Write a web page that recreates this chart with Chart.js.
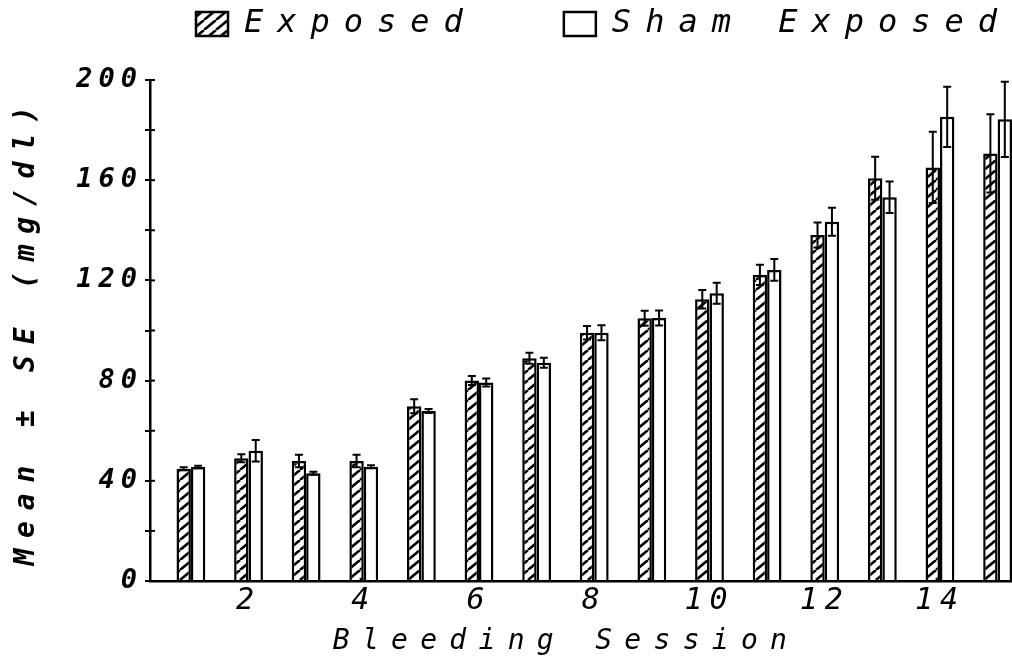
<!DOCTYPE html>
<html>
<head>
<meta charset="utf-8">
<script src="https://cdn.jsdelivr.net/npm/chart.js@4.4.1/dist/chart.umd.min.js"></script>
<style>
  html, body { margin: 0; padding: 0; background: #fff; }
  canvas { display: block; }
</style>
</head>
<body>
<canvas id="chart" width="1012" height="668"></canvas>
<script>
// Blood values by bleeding session (mean and standard error, mg/dl)
const sessions     = [1, 2, 3, 4, 5, 6, 7, 8, 9, 10, 11, 12, 13, 14, 15];
const exposedMean  = [44.8, 49.0, 47.9, 47.9, 69.8, 80.0, 88.9, 99.1, 104.9, 112.5, 122.2, 138.1, 160.8, 165.1, 170.7];
const exposedSE    = [0.6, 1.6, 2.5, 2.5, 2.8, 1.8, 2.2, 2.7, 3.0, 3.7, 4.0, 5.0, 8.6, 14.2, 15.6];
const shamMean     = [45.5, 52.0, 43.0, 45.6, 67.9, 79.2, 87.1, 99.1, 105.0, 114.9, 124.2, 143.4, 153.2, 185.3, 184.3];
const shamSE       = [0.5, 4.3, 0.6, 0.6, 0.8, 1.6, 2.0, 3.0, 3.0, 4.2, 4.3, 5.6, 6.3, 12.0, 15.0];
const sessionTicks = [2, 4, 6, 8, 10, 12, 14];
const yLabelValues = [0, 40, 80, 120, 160, 200];
const yMinorStep   = 20;

const FONT = 'DejaVu Sans Mono';
const canvas = document.getElementById('chart');
const mainCtx = canvas.getContext('2d');

// Diagonal "////" fill for the exposed group
function hatchPattern() {
  const w = 12, h = 10;
  const c = document.createElement('canvas');
  c.width = w; c.height = h;
  const g = c.getContext('2d');
  g.fillStyle = '#fff';
  g.fillRect(0, 0, w, h);
  g.strokeStyle = '#000';
  g.lineWidth = 2.6;
  for (const k of [-1, 0, 1]) {
    g.beginPath();
    g.moveTo(k * w, h);
    g.lineTo(k * w + w, 0);
    g.stroke();
  }
  return mainCtx.createPattern(c, 'repeat');
}

// Wide plotter-style lettering: run a draw method with extra letter spacing
// (and an optional horizontal nudge)
function withSpacing(obj, name, px, dx = 0) {
  const flag = '_spaced_' + name;
  if (!obj || obj[flag]) return;
  const orig = obj[name];
  obj[name] = function (...args) {
    const ctx = this.ctx;
    ctx.save();
    ctx.letterSpacing = px + 'px';
    if (dx) ctx.translate(dx, 0);
    try { return orig.apply(this, args); }
    finally { ctx.restore(); }
  };
  obj[flag] = true;
}

const LEGEND_X = 196, LEGEND_Y = 8, LEGEND_GAP = 87, LEGEND_SPACING = 14;

const lettering = {
  id: 'lettering',
  beforeLayout(chart) {
    const lg = chart.legend;
    if (lg && !lg._placed) {
      const fit = lg.fit;
      lg.fit = function (...a) {
        const ctx = this.ctx, prev = ctx.letterSpacing;
        ctx.letterSpacing = LEGEND_SPACING + 'px';
        try { fit.apply(this, a); } finally { ctx.letterSpacing = prev; }
        this.height = 80;
      };
      const draw = lg.draw;
      lg.draw = function (...a) {
        this.left = LEGEND_X - LEGEND_GAP;
        this.top = LEGEND_Y - LEGEND_GAP;
        this.right = 2400;
        const ctx = this.ctx, prev = ctx.letterSpacing;
        ctx.letterSpacing = LEGEND_SPACING + 'px';
        try { draw.apply(this, a); } finally { ctx.letterSpacing = prev; }
      };
      lg._placed = true;
    }
    withSpacing(chart.scales.x, 'drawLabels', 7);
    withSpacing(chart.scales.x, 'drawTitle', 12.3, -15);
    withSpacing(chart.scales.y, 'drawLabels', 6);
    withSpacing(chart.scales.y, 'drawTitle', 10.8);
  }
};

// Mean ± SE whiskers on every bar
const errorBars = {
  id: 'errorBars',
  afterDatasetsDraw(chart) {
    const ctx = chart.ctx, y = chart.scales.y;
    ctx.save();
    ctx.strokeStyle = '#000';
    ctx.lineWidth = 2;
    chart.data.datasets.forEach((ds, di) => {
      chart.getDatasetMeta(di).data.forEach((bar, i) => {
        const v = ds.data[i].y, e = ds.errors[i];
        const top = y.getPixelForValue(v + e);
        const bot = y.getPixelForValue(v - e);
        ctx.beginPath();
        ctx.moveTo(bar.x, top); ctx.lineTo(bar.x, bot);
        ctx.moveTo(bar.x - 4, top); ctx.lineTo(bar.x + 4, top);
        ctx.moveTo(bar.x - 4, bot); ctx.lineTo(bar.x + 4, bot);
        ctx.stroke();
      });
    });
    ctx.restore();
  }
};

// Tick marks crossing into the plot on the value axis
const innerTicks = {
  id: 'innerTicks',
  afterDraw(chart) {
    const ctx = chart.ctx, y = chart.scales.y;
    ctx.save();
    ctx.strokeStyle = '#000';
    ctx.lineWidth = 2;
    y.ticks.forEach(t => {
      const p = y.getPixelForValue(t.value);
      ctx.beginPath();
      ctx.moveTo(y.right, p);
      ctx.lineTo(y.right + 5, p);
      ctx.stroke();
    });
    ctx.restore();
  }
};

const toPoints = (vals) => vals.map((v, i) => ({ x: sessions[i], y: v }));

new Chart(canvas, {
  type: 'bar',
  data: {
    datasets: [
      {
        label: 'Exposed',
        data: toPoints(exposedMean),
        errors: exposedSE,
        backgroundColor: hatchPattern(),
        borderColor: '#000',
        borderWidth: 2.5,
        borderSkipped: 'start'
      },
      {
        label: 'Sham Exposed',
        data: toPoints(shamMean),
        errors: shamSE,
        backgroundColor: '#fff',
        borderColor: '#000',
        borderWidth: 2.5,
        borderSkipped: 'start'
      }
    ]
  },
  options: {
    responsive: false,
    animation: false,
    devicePixelRatio: 1,
    categoryPercentage: 0.5,
    barPercentage: 1.0,
    layout: { padding: 0 },
    plugins: {
      tooltip: { enabled: false },
      legend: {
        position: 'top',
        align: 'start',
        labels: {
          color: '#000',
          font: { family: FONT, size: 32, style: 'italic' },
          boxWidth: 32,
          boxHeight: 24,
          padding: LEGEND_GAP
        }
      }
    },
    scales: {
      x: {
        type: 'linear',
        min: 0.29,
        max: 15.25,
        offset: false,
        grid: { display: false, drawTicks: false, offset: false },
        border: { display: true, color: '#000', width: 2.5 },
        afterBuildTicks: (s) => { s.ticks = sessionTicks.map(v => ({ value: v })); },
        afterFit: (s) => { s.height = 87; },
        ticks: {
          color: '#000',
          maxRotation: 0,
          autoSkip: false,
          padding: 2,
          font: { family: FONT, size: 30, style: 'italic' },
          callback: (v) => String(v)
        },
        title: {
          display: true,
          text: 'Bleeding Session',
          color: '#000',
          font: { family: FONT, size: 28, style: 'italic' },
          padding: { top: 0, bottom: 9 }
        }
      },
      y: {
        min: 0,
        max: 200,
        grid: { display: true, drawOnChartArea: false, drawTicks: true, tickLength: 5, color: '#000', lineWidth: 2 },
        border: { display: true, color: '#000', width: 2.5 },
        afterBuildTicks: (s) => {
          const t = [];
          for (let v = 0; v <= 200; v += yMinorStep) t.push({ value: v });
          s.ticks = t;
        },
        afterFit: (s) => { s.width = 150; },
        ticks: {
          color: '#000',
          padding: 2,
          font: { family: FONT, size: 27, style: 'italic', weight: 'bold' },
          callback: (v) => yLabelValues.includes(v) ? String(v) : ''
        },
        title: {
          display: true,
          text: 'Mean \u00b1 SE (mg/dl)',
          color: '#000',
          font: { family: FONT, size: 28, style: 'italic', weight: 'bold' },
          padding: { top: 10, bottom: 0 }
        }
      }
    }
  },
  plugins: [lettering, errorBars, innerTicks]
});
</script>
</body>
</html>
